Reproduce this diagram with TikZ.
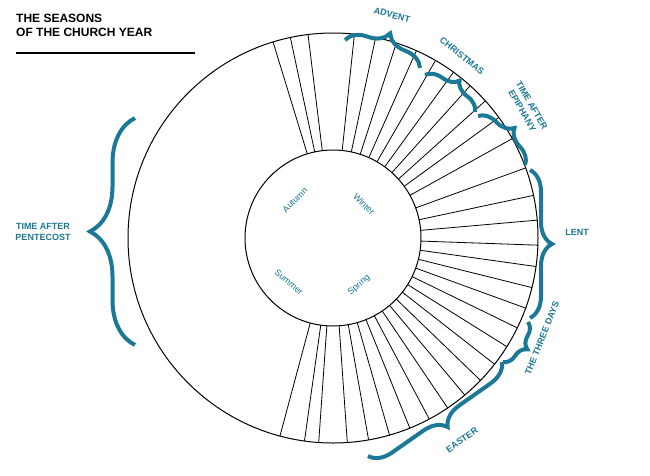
\documentclass[tikz,border=0pt]{standalone}
\usepackage{fontspec}
\setmainfont{Liberation Sans}
\usetikzlibrary{decorations.pathreplacing,calc}
\definecolor{teal1}{HTML}{1B7896}
\begin{document}
\begin{tikzpicture}[x=1pt,y=-1pt,
  br/.style={draw=teal1,line width=4pt,decorate,decoration={brace,amplitude=22pt}},
  lab/.style={text=teal1,font=\bfseries\small,align=center,inner sep=1pt},
  sea/.style={text=teal1,font=\small,inner sep=1pt}]
\useasboundingbox[fill=white] (0,0) rectangle (650,475);
\coordinate (c) at (333,238);
\draw[line width=1pt] (c) circle[radius=205];
\draw[line width=1pt] (c) circle[radius=88];
\foreach \a in {107,102,97,84,78,72,66,60,54,48,42,36,29,20,12,5,-2,-8,-14,-20,-26,-32,-38,-44,-50,-56,-62,-68,-74,-80,-86,255,262,266}
  \draw[line width=0.8pt] ($(c)+(\a:88 and -88)$) -- ($(c)+(\a:205 and -205)$);
\node[anchor=north west,font=\bfseries\large,align=left,inner sep=0pt] (t) at (16,14) {THE SEASONS\\OF THE CHURCH YEAR};
\draw[line width=1.2pt] (16,53) -- (195,53);
% braces
\coordinate (a1) at (345,40); \coordinate (a2) at (420,68);
\draw[br] (a1) -- (a2);
\node[lab,rotate=-15] (ad) at (392,15) {ADVENT};
\coordinate (b1) at (425,75); \coordinate (b2) at (475,112);
\draw[br,decoration={amplitude=16pt}] (b1) -- (b2);
\node[lab,rotate=-38] (ch) at (462,56) {CHRISTMAS};
\coordinate (e1) at (478,116); \coordinate (e2) at (525,165);
\draw[br,decoration={amplitude=18pt}] (e1) -- (e2);
\node[lab,rotate=-60] (ep) at (527,108) {TIME AFTER\\EPIPHANY};
\coordinate (l1) at (530,170); \coordinate (l2) at (530,318);
\draw[br] (l1) -- (l2);
\node[lab] (le) at (577,232) {LENT};
\coordinate (d1) at (528,322); \coordinate (d2) at (503,362);
\draw[br,decoration={amplitude=14pt}] (d1) -- (d2);
\node[lab,rotate=68] (td) at (542,338) {THE THREE DAYS};
\coordinate (s1) at (502,362); \coordinate (s2) at (368,456);
\draw[br,decoration={amplitude=22pt}] (s1) -- (s2);
\node[lab,rotate=35] (ea) at (462,440) {EASTER};
\coordinate (p1) at (135,345); \coordinate (p2) at (135,118);
\draw[br,decoration={amplitude=45pt}] (p1) -- (p2);
\node[lab] (pe) at (43,232) {TIME AFTER\\PENTECOST};
% seasons
\node[sea,rotate=45] (au) at (295,200) {Autumn};
\node[sea,rotate=-45] (wi) at (364,204) {Winter};
\node[sea,rotate=-40] (su) at (289,282) {Summer};
\node[sea,rotate=40] (sp) at (359,285) {Spring};
\end{tikzpicture}
\end{document}
